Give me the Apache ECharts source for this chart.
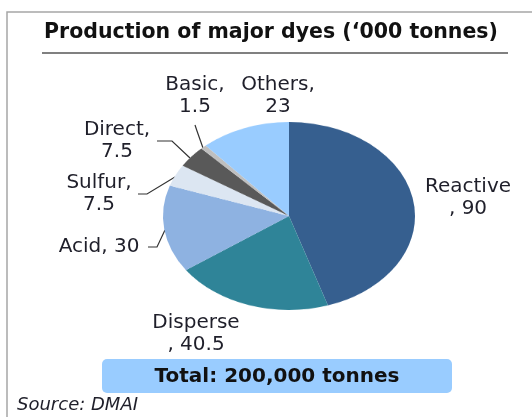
<!DOCTYPE html>
<html>
<head>
<meta charset="utf-8">
<script src="https://cdn.jsdelivr.net/npm/echarts@6/dist/echarts.min.js"></script>
<style>
  html, body { margin: 0; padding: 0; background: #fff; }
  #wrap { position: relative; width: 532px; height: 417px; }
  #main { position: absolute; left: 0; top: 0; width: 532px; height: 417px; }
  /* pie is squashed vertically like the original picture */
  #pie {
    position: absolute; left: 139px; top: 66px; width: 300px; height: 300px;
    transform-origin: 150px 150px; transform: scaleY(0.746);
  }
</style>
</head>
<body>
<div id="wrap">
  <div id="main"></div>
  <div id="pie"></div>
</div>
<script>
// data
const dyeNames = ['Reactive', 'Disperse', 'Acid', 'Sulfur', 'Direct', 'Basic', 'Others'];
const dyeValues = [90, 40.5, 30, 7.5, 7.5, 1.5, 23];
const dyeColors = ['#365F8F', '#2F8498', '#8EB2E1', '#DCE6F2', '#595959', '#BFBFBF', '#99CCFF'];
const titleText = 'Production of major dyes (\u2018000 tonnes)';
const totalText = 'Total: 200,000 tonnes';
const sourceText = 'Source: DMAI';

// label placement (x,y = centre of first line), wrap style and leader line
const labelPlace = [
  { x: 468, y: 187, wrap: 'before' },
  { x: 196, y: 323, wrap: 'before' },
  { x: 99, y: 247, wrap: 'none', line: [[148, 247], [157, 247], [165, 230]] },
  { x: 99, y: 183, wrap: 'after', line: [[138, 194], [147, 194], [175, 177]] },
  { x: 117, y: 130, wrap: 'after', line: [[157, 141], [172, 141], [190, 158]] },
  { x: 195, y: 85, wrap: 'after', line: [[195, 125], [197, 131], [203, 148]] },
  { x: 278, y: 85, wrap: 'after' }
];

const font = 'DejaVu Sans';
const txtColor = '#1f1f2a';

function labelText(i) {
  const p = labelPlace[i];
  if (p.wrap === 'before') return dyeNames[i] + '\n, ' + dyeValues[i];
  if (p.wrap === 'after') return dyeNames[i] + ',\n' + dyeValues[i];
  return dyeNames[i] + ', ' + dyeValues[i];
}

// pie chart
const pieChart = echarts.init(document.getElementById('pie'));
pieChart.setOption({
  animation: false,
  series: [
    {
      type: 'pie',
      silent: true,
      center: ['50%', '50%'],
      radius: 126,
      startAngle: 90,
      clockwise: true,
      label: { show: false },
      labelLine: { show: false },
      itemStyle: { borderWidth: 0 },
      data: dyeNames.map((n, i) => ({
        name: n,
        value: dyeValues[i],
        itemStyle: { color: dyeColors[i] }
      }))
    }
  ]
});

// frame, title, labels, total box
const graphics = [];
graphics.push({
  type: 'polyline',
  shape: { points: [[7, 417], [7, 12], [532, 12]] },
  style: { stroke: '#a6a6a6', lineWidth: 1.5, fill: null }
});
graphics.push({
  type: 'text',
  x: 271, y: 33,
  style: {
    text: titleText, fontFamily: font, fontWeight: 'bold', fontSize: 20.5,
    fill: '#111', align: 'center', verticalAlign: 'middle'
  }
});
graphics.push({
  type: 'line',
  shape: { x1: 42, y1: 53, x2: 508, y2: 53 },
  style: { stroke: '#808080', lineWidth: 2 }
});
dyeNames.forEach((n, i) => {
  const p = labelPlace[i];
  graphics.push({
    type: 'text',
    x: p.x, y: p.y - 11,
    style: {
      text: labelText(i), fontFamily: font, fontSize: 20, lineHeight: 22,
      fill: txtColor, align: 'center', verticalAlign: 'top'
    }
  });
  if (p.line) {
    graphics.push({
      type: 'polyline',
      shape: { points: p.line },
      style: { stroke: '#333', lineWidth: 1.2, fill: null }
    });
  }
});
graphics.push({
  type: 'rect',
  shape: { x: 102, y: 359, width: 350, height: 34, r: 5 },
  style: { fill: '#99CCFF' }
});
graphics.push({
  type: 'text',
  x: 277, y: 377,
  style: {
    text: totalText, fontFamily: font, fontWeight: 'bold', fontSize: 20,
    fill: '#111', align: 'center', verticalAlign: 'middle'
  }
});
graphics.push({
  type: 'text',
  x: 17, y: 405,
  style: {
    text: sourceText, fontFamily: font, fontStyle: 'italic', fontSize: 18,
    fill: '#1f1f2a', align: 'left', verticalAlign: 'middle'
  }
});

const mainChart = echarts.init(document.getElementById('main'));
mainChart.setOption({
  animation: false,
  graphic: graphics
});
</script>
</body>
</html>
